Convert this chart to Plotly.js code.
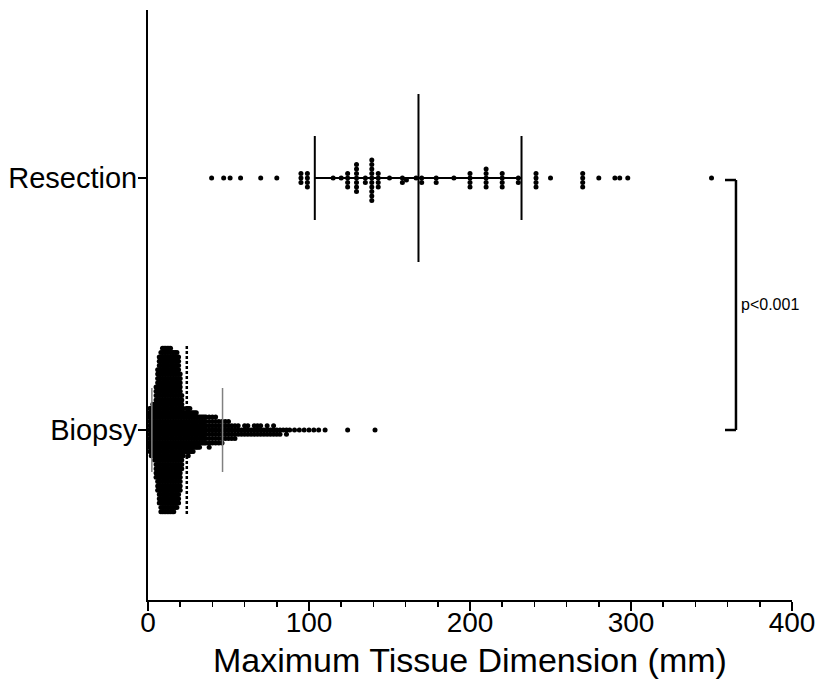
<!DOCTYPE html>
<html><head><meta charset="utf-8">
<script src="https://cdn.plot.ly/plotly-3.0.1.min.js"></script>
<style>html,body{margin:0;padding:0;background:#fff}</style>
</head><body><div id="chart" style="width:825px;height:686px"></div>
<script>
// ---- data ----
const categories = ['Biopsy', 'Resection'];
const xTickValues = [0, 100, 200, 300, 400];
const resectionValues = [39.5, 47, 51, 57.5, 70, 80, 95, 95, 95, 99, 99, 99, 99,
  115, 120, 124, 124, 124, 124, 129.5, 129.5, 129.5, 129.5, 129.5, 129.5, 129.5,
  135, 135, 139, 139, 139, 139, 139, 139, 139, 139, 139, 139, 143, 143, 143, 143,
  150, 158, 158, 160.5, 166.5, 170, 170, 179, 179, 190, 200, 200, 200, 200,
  210, 210, 210, 210, 210, 220, 220, 220, 220, 230, 230, 241, 241, 241, 241, 250,
  270, 270, 270, 270, 280, 290, 293, 298, 350];
const biopsySizes = [1, 2, 3, 4, 5, 6, 7, 8, 9, 10, 11, 12, 13, 14, 15, 16, 17, 18, 19, 20, 21, 22, 23, 24,
  25, 26, 27, 28, 29, 30, 31, 32, 33, 34, 35, 36, 38, 40, 42, 44, 46, 48, 50, 52, 54, 56, 58, 60,
  62, 64, 66, 68, 70, 72, 74, 76, 78, 80, 82, 84, 86, 88, 91, 94, 97, 100, 103, 106, 110, 124, 141];
const biopsyCounts = [11, 12, 13, 14, 22, 29, 35, 38, 39, 39, 39, 39, 39, 39, 38, 38, 37, 37, 35, 28, 18, 12, 10, 11,
  12, 11, 10, 10, 9, 9, 8, 8, 7, 7, 7, 7, 8, 7, 7, 6, 6, 5, 5, 4, 4, 3, 2, 3,
  3, 2, 3, 3, 3, 2, 3, 2, 3, 2, 2, 1, 2, 1, 1, 1, 1, 1, 1, 1, 1, 1, 1];
// summary lines: [mean - SD, mean, mean + SD]
const resectionSummary = [103.6, 168, 232];
const biopsySummary = [2.4, 24.1, 46.3];
const pValueText = 'p<0.001';
const xTitle = 'Maximum Tissue Dimension (mm)';

// ---- layout geometry ----
const W = 825, H = 686;
const M = {l: 148, r: 33, t: 10, b: 86};
const xRange = [0, 400];
const yRange = [-0.6746, 1.6667];
const pxPerX = (W - M.l - M.r) / (xRange[1] - xRange[0]);
const pxPerY = (H - M.t - M.b) / (yRange[1] - yRange[0]);
const DOT = 4.3;       // spacing between stacked dots (px)
const MARKER = 5;

// beeswarm (collision avoidance) for resection
function swarmOffsets(vals) {
  const placed = [];
  return vals.map(v => {
    const x = v * pxPerX;
    let y = 0;
    for (let k = 0; k < 2000; k++) {
      const step = Math.ceil(k / 2) * 0.5;
      const cand = k === 0 ? 0 : (k % 2 ? step : -step);
      if (placed.every(p => (p.x - x) ** 2 + (p.y - cand) ** 2 >= DOT * DOT - 1e-6)) { y = cand; break; }
    }
    placed.push({x, y});
    return y;
  });
}
// column stacking for biopsy (identical values share a column)
function columnPoints(sizes, counts) {
  const xs = [], offs = [];
  sizes.forEach((s, i) => {
    for (let k = 0; k < counts[i]; k++) {
      const m = Math.ceil(k / 2) * (k % 2 ? 1 : -1);
      xs.push(s); offs.push(m * DOT);
    }
  });
  return {xs, offs};
}

const resSorted = resectionValues.slice().sort((a, b) => a - b);
const resOff = swarmOffsets(resSorted);
const resY = resOff.map(o => 1 - o / pxPerY);
const bio = columnPoints(biopsySizes, biopsyCounts);
const bioY = bio.offs.map(o => 0 - o / pxPerY);

const longHalf = 84 / pxPerY, shortHalf = 42 / pxPerY;
function vline(x, yc, half, line) {
  return {type: 'scatter', mode: 'lines', x: [x, x], y: [yc - half, yc + half], line, hoverinfo: 'skip', showlegend: false};
}
function hline(x0, x1, yc, line) {
  return {type: 'scatter', mode: 'lines', x: [x0, x1], y: [yc, yc], line, hoverinfo: 'skip', showlegend: false};
}
const gray = {color: '#808080', width: 1.5};
const blk = {color: '#000', width: 2};

const traces = [
  hline(biopsySummary[0], biopsySummary[2], 0, gray),
  {type: 'scatter', mode: 'markers', x: bio.xs, y: bioY, marker: {color: '#000', size: MARKER}, hoverinfo: 'x', showlegend: false},
  vline(biopsySummary[0], 0, shortHalf, gray),
  vline(biopsySummary[2], 0, shortHalf, gray),
  {type: 'scatter', mode: 'markers', x: resSorted, y: resY, marker: {color: '#000', size: MARKER}, hoverinfo: 'x', showlegend: false},
  vline(biopsySummary[1], 0, longHalf, {color: '#000', width: 2.5, dash: '3px,2px'}),
  hline(resectionSummary[0], resectionSummary[2], 1, blk),
  vline(resectionSummary[0], 1, shortHalf, blk),
  vline(resectionSummary[2], 1, shortHalf, blk),
  vline(resectionSummary[1], 1, longHalf, blk)
];

const axisFont = 'Liberation Sans, Arial, sans-serif';
const bx = 365.2, bxl = 358.4;
const layout = {
  width: W, height: H, margin: M,
  paper_bgcolor: '#fff', plot_bgcolor: '#fff', showlegend: false,
  font: {family: axisFont, color: '#000'},
  xaxis: {
    range: xRange, tickvals: xTickValues, ticks: 'outside', ticklen: 9, tickwidth: 2, tickcolor: '#000',
    showline: true, linewidth: 2, linecolor: '#000', showgrid: false, zeroline: false,
    minor: {dtick: 20, ticks: 'outside', ticklen: 5, tickwidth: 1.5, tickcolor: '#000', showgrid: false},
    tickfont: {family: axisFont, size: 28}, ticklabelstandoff: -13
  },
  yaxis: {
    range: yRange, tickvals: [0, 1], ticktext: categories, ticks: 'outside', ticklen: 8, tickwidth: 2, tickcolor: '#000',
    showline: true, linewidth: 2, linecolor: '#000', showgrid: false, zeroline: false,
    tickfont: {family: axisFont, size: 29}, ticklabelstandoff: -5
  },
  shapes: [
    {type: 'line', xref: 'x', yref: 'y', x0: bx, x1: bx, y0: 0, y1: 0.992, line: {color: '#000', width: 2.5}},
    {type: 'line', xref: 'x', yref: 'y', x0: bxl, x1: bx, y0: 0.992, y1: 0.992, line: {color: '#000', width: 2.5}},
    {type: 'line', xref: 'x', yref: 'y', x0: bxl, x1: bx, y0: 0, y1: 0, line: {color: '#000', width: 2.5}}
  ],
  annotations: [
    {x: bx + 2, y: 0.5, xref: 'x', yref: 'y', text: pValueText, showarrow: false, xanchor: 'left', yanchor: 'middle',
     font: {family: axisFont, size: 16, color: '#000'}},
    {x: 0.5, y: -60 / (H - M.t - M.b), xref: 'paper', yref: 'paper', text: xTitle, showarrow: false,
     xanchor: 'center', yanchor: 'middle', font: {family: axisFont, size: 34, color: '#000'}}
  ]
};
Plotly.newPlot('chart', traces, layout, {displayModeBar: false, staticPlot: true});
</script></body></html>
